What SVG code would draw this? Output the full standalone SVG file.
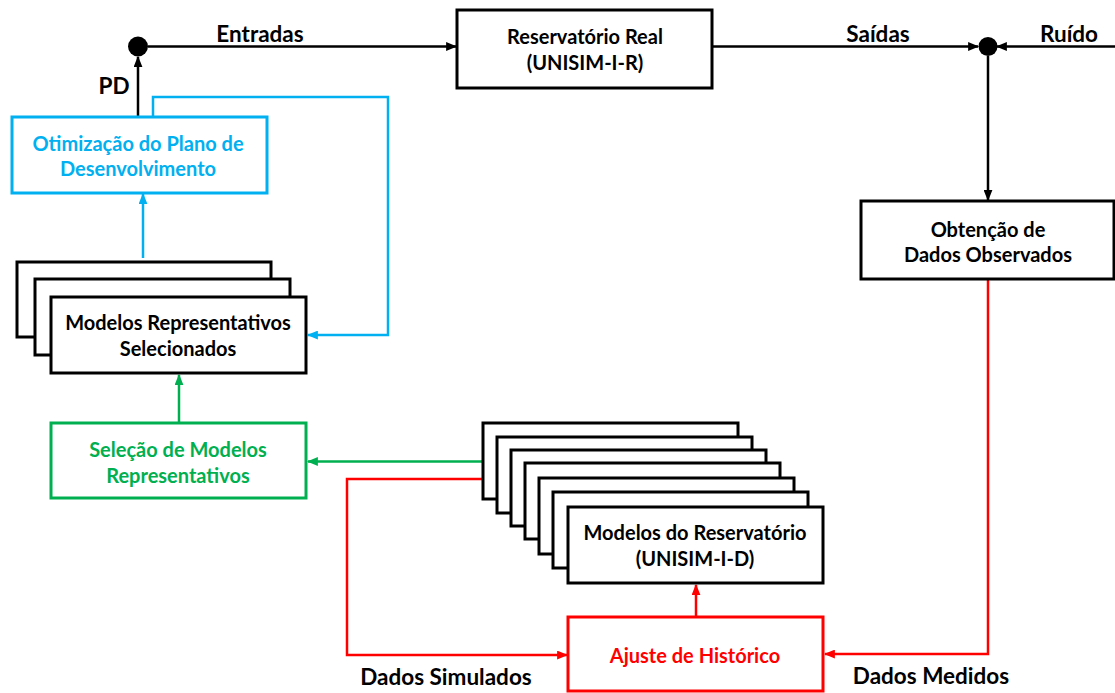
<svg xmlns="http://www.w3.org/2000/svg" width="1115" height="693" viewBox="0 0 1115 693">
  <style>
    .box { fill: #ffffff; stroke: #000000; stroke-width: 3; }
    .box-blue { fill: #ffffff; stroke: #00B0F0; stroke-width: 3; }
    .box-green { fill: #ffffff; stroke: #00B050; stroke-width: 3; }
    .box-red { fill: #ffffff; stroke: #FF0000; stroke-width: 3; }
    text { font-family: Lato, "Liberation Sans", sans-serif; font-weight: bold; font-size: 20px; text-anchor: middle; dominant-baseline: central; }
    .t-black { fill: #000000; }
    .t-blue { fill: #00B0F0; }
    .t-green { fill: #00B050; }
    .t-red { fill: #FF0000; }
    .lbl { font-size: 22.5px; }
    .ln { fill: none; stroke-width: 2.5; stroke-linejoin: miter; }
    .ln-black { stroke: #000000; }
    .ln-blue { stroke: #00B0F0; }
    .ln-green { stroke: #00B050; }
    .ln-red { stroke: #FF0000; }
  </style>
  <defs>
    <marker id="ah-black" viewBox="0 0 10 8" refX="9" refY="4" markerWidth="11" markerHeight="9" markerUnits="userSpaceOnUse" orient="auto">
      <path d="M0,0 L10,4 L0,8 z" fill="#000000"/>
    </marker>
    <marker id="ah-blue" viewBox="0 0 10 8" refX="9" refY="4" markerWidth="11" markerHeight="9" markerUnits="userSpaceOnUse" orient="auto">
      <path d="M0,0 L10,4 L0,8 z" fill="#00B0F0"/>
    </marker>
    <marker id="ah-green" viewBox="0 0 10 8" refX="9" refY="4" markerWidth="11" markerHeight="9" markerUnits="userSpaceOnUse" orient="auto">
      <path d="M0,0 L10,4 L0,8 z" fill="#00B050"/>
    </marker>
    <marker id="ah-red" viewBox="0 0 10 8" refX="9" refY="4" markerWidth="11" markerHeight="9" markerUnits="userSpaceOnUse" orient="auto">
      <path d="M0,0 L10,4 L0,8 z" fill="#FF0000"/>
    </marker>
  </defs>

  <rect width="1115" height="693" fill="#ffffff"/>

  <!-- connectors -->
  <g id="connectors">
    <!-- inputs: summing point to real reservoir -->
    <path class="ln ln-black" d="M148,46.5 L456,46.5" marker-end="url(#ah-black)"/>
    <!-- development plan up to the summing point -->
    <path class="ln ln-black" d="M138,117 L138,57" marker-end="url(#ah-black)"/>
    <!-- outputs to the noise junction -->
    <path class="ln ln-black" d="M713,46.5 L978,46.5" marker-end="url(#ah-black)"/>
    <!-- noise -->
    <path class="ln ln-black" d="M1115,46.5 L997,46.5" marker-end="url(#ah-black)"/>
    <!-- junction down to observed data -->
    <path class="ln ln-black" d="M988,56 L988,200" marker-end="url(#ah-black)"/>

    <!-- optimisation feedback loop -->
    <path class="ln ln-blue" d="M153,117 L153,97 L388,97 L388,335 L308,335" marker-end="url(#ah-blue)"/>
    <!-- selected models up to optimisation -->
    <path class="ln ln-blue" d="M143,258 L143,194" marker-end="url(#ah-blue)"/>

    <!-- selection up to selected models -->
    <path class="ln ln-green" d="M179,422 L179,375" marker-end="url(#ah-green)"/>
    <!-- reservoir models to selection -->
    <path class="ln ln-green" d="M483,461.5 L308,461.5" marker-end="url(#ah-green)"/>

    <!-- simulated data -->
    <path class="ln ln-red" d="M483,479 L347,479 L347,655 L567,655" marker-end="url(#ah-red)"/>
    <!-- measured data -->
    <path class="ln ln-red" d="M988,280 L988,654 L825,654" marker-end="url(#ah-red)"/>
    <!-- history matching updates the models -->
    <path class="ln ln-red" d="M696,617 L696,585" marker-end="url(#ah-red)"/>
  </g>

  <!-- summing points -->
  <g id="sum-inputs">
    <circle cx="138" cy="46.5" r="10" fill="#000000"/>
  </g>
  <g id="sum-outputs">
    <circle cx="988" cy="46.5" r="9.5" fill="#000000"/>
  </g>

  <!-- edge labels -->
  <g id="labels">
    <text class="t-black lbl" x="260" y="33">Entradas</text>
    <text class="t-black lbl" x="114" y="85">PD</text>
    <text class="t-black lbl" x="878" y="33">Saídas</text>
    <text class="t-black lbl" x="1069" y="33">Ruído</text>
    <text class="t-black lbl" x="446" y="676">Dados Simulados</text>
    <text class="t-black lbl" x="931" y="675">Dados Medidos</text>
  </g>

  <g id="reservatorio-real">
    <rect class="box" x="457" y="10" width="255" height="78"/>
    <text class="t-black" x="585" y="36">Reservatório Real</text>
    <text class="t-black" x="585" y="62">(UNISIM-I-R)</text>
  </g>

  <g id="obtencao-dados">
    <rect class="box" x="861" y="201" width="253" height="78"/>
    <text class="t-black" x="988" y="229">Obtenção de</text>
    <text class="t-black" x="988" y="254">Dados Observados</text>
  </g>

  <g id="otimizacao-pd">
    <rect class="box-blue" x="12" y="117" width="255" height="76"/>
    <text class="t-blue" x="138" y="143">Otimização do Plano de</text>
    <text class="t-blue" x="138" y="168">Desenvolvimento</text>
  </g>

  <g id="modelos-representativos">
    <rect class="box" x="17" y="262" width="254" height="75"/>
    <rect class="box" x="35" y="279" width="255" height="76"/>
    <rect class="box" x="51" y="297" width="255" height="76"/>
    <text class="t-black" x="178" y="322">Modelos Representativos</text>
    <text class="t-black" x="178" y="348">Selecionados</text>
  </g>

  <g id="selecao-modelos">
    <rect class="box-green" x="51" y="423" width="255" height="75"/>
    <text class="t-green" x="178" y="449">Seleção de Modelos</text>
    <text class="t-green" x="178" y="475">Representativos</text>
  </g>

  <g id="modelos-reservatorio">
    <rect class="box" x="483" y="423" width="255" height="76"/>
    <rect class="box" x="497" y="437" width="255" height="76"/>
    <rect class="box" x="511" y="450" width="255" height="76"/>
    <rect class="box" x="525" y="463" width="255" height="76"/>
    <rect class="box" x="539" y="478" width="255" height="76"/>
    <rect class="box" x="553" y="492" width="255" height="76"/>
    <rect class="box" x="568" y="507" width="255" height="76"/>
    <text class="t-black" x="695" y="532">Modelos do Reservatório</text>
    <text class="t-black" x="695" y="558">(UNISIM-I-D)</text>
  </g>

  <g id="ajuste-historico">
    <rect class="box-red" x="568" y="617" width="255" height="74"/>
    <text class="t-red" x="695" y="655">Ajuste de Histórico</text>
  </g>
</svg>
